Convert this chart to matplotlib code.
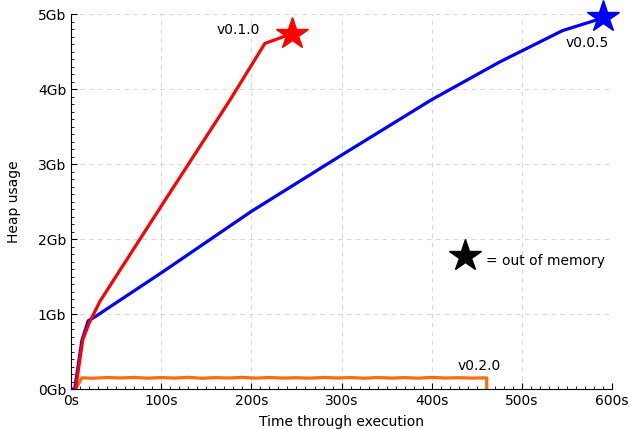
import numpy as np
import matplotlib.pyplot as plt
from matplotlib.ticker import MultipleLocator, FuncFormatter

# v0.0.5 (blue)
t_005 = [0, 4, 12, 19, 26, 100, 200, 300, 400, 475, 545, 590]
heap_005 = [0, 0, 0.65, 0.91, 0.96, 1.55, 2.37, 3.12, 3.86, 4.36, 4.78, 4.95]

# v0.1.0 (red)
t_010 = [5, 13, 20, 32, 100, 176, 215, 245]
heap_010 = [0, 0.66, 0.88, 1.17, 2.44, 3.85, 4.61, 4.74]

# v0.2.0 (orange)
t_020 = [5, 12, 25, 40, 55, 70, 85, 100, 115, 130, 145, 160, 175, 190,
         205, 220, 235, 250, 265, 280, 295, 310, 325, 340, 355, 370, 385,
         400, 415, 430, 445, 461, 461]
heap_020 = [0, 0.15, 0.145, 0.155, 0.148, 0.156, 0.146, 0.154, 0.147,
            0.157, 0.145, 0.153, 0.148, 0.156, 0.146, 0.155, 0.147, 0.152,
            0.146, 0.156, 0.148, 0.154, 0.145, 0.155, 0.147, 0.153, 0.146,
            0.156, 0.148, 0.152, 0.147, 0.15, 0]

# out of memory points
oom_t = [245, 590]
oom_heap = [4.74, 4.96]

fig = plt.figure(figsize=(6.29, 4.29), dpi=100)
ax = fig.add_axes([0.113, 0.093, 0.86, 0.874])

ax.plot(t_005, heap_005, color="#0000ff", lw=2.3, zorder=3)
ax.plot(t_010, heap_010, color="#ff0000", lw=2.3, zorder=4)
ax.plot(t_020, heap_020, color="#ff6a10", lw=2.3, zorder=3)

ax.plot(oom_t[0], oom_heap[0], marker="*", color="#ff0000", ms=24, zorder=5)
ax.plot(oom_t[1], oom_heap[1], marker="*", color="#0000ff", ms=24, zorder=5, clip_on=False)

ax.text(209, 4.79, "v0.1.0", ha="right", va="center", fontsize=10)
ax.text(573, 4.61, "v0.0.5", ha="center", va="center", fontsize=10)
ax.text(453, 0.31, "v0.2.0", ha="center", va="center", fontsize=10)

# legend for the star
ax.plot(437, 1.78, marker="*", color="black", ms=24, zorder=5)
ax.text(460, 1.71, "= out of memory", ha="left", va="center", fontsize=10)

ax.set_xlim(0, 600)
ax.set_ylim(0, 5)
ax.xaxis.set_major_locator(MultipleLocator(100))
ax.xaxis.set_minor_locator(MultipleLocator(10))
ax.yaxis.set_major_locator(MultipleLocator(1))
ax.yaxis.set_minor_locator(MultipleLocator(0.1))
ax.xaxis.set_major_formatter(FuncFormatter(lambda v, p: f"{int(v)}s"))
ax.yaxis.set_major_formatter(FuncFormatter(lambda v, p: f"{int(v)}Gb"))
ax.tick_params(which="both", direction="in", labelsize=10)
ax.tick_params(which="major", length=4)
ax.tick_params(which="minor", length=2)

ax.spines["top"].set_visible(False)
ax.spines["right"].set_visible(False)
ax.grid(True, which="major", ls=(0, (4, 4)), color="#d8d8d8", lw=0.8)

ax.set_xlabel("Time through execution", fontsize=10, labelpad=5)
ax.set_ylabel("Heap usage", fontsize=10, labelpad=12)

plt.savefig("out.png", dpi=100)
